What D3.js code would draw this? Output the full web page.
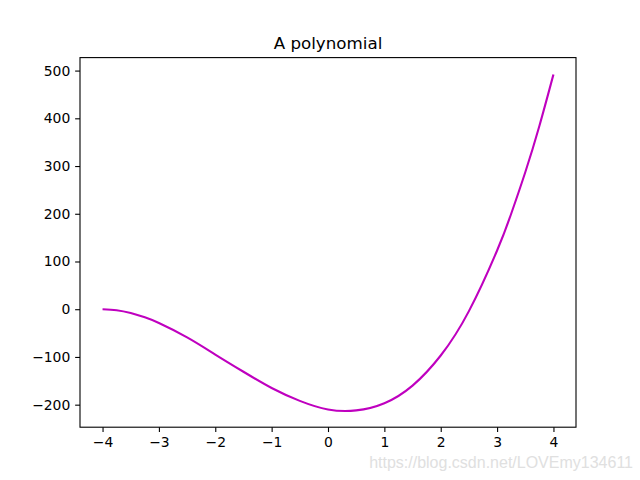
<!DOCTYPE html>
<html><head><meta charset="utf-8">
<script src="https://cdn.jsdelivr.net/npm/d3@7"></script>
<style>body{margin:0;background:#fff}svg{display:block}</style>
</head><body>
<script>
const xValues = [-4,-3.75,-3.5,-3.25,-3,-2.5,-2,-1.5,-1,-0.5,0,0.5,1,1.5,2,2.5,3,3.25,3.5,3.75,4];
const yValues = [0,-2,-8,-17,-29,-59,-95,-131,-165,-192,-210,-212,-197,-160,-97,-4,123,200,287,384,492];
const xTicks = [-4,-3,-2,-1,0,1,2,3,4];
const yTicks = [-200,-100,0,100,200,300,400,500];
const title = "A polynomial";
const watermark = "https://blog.csdn.net/LOVEmy134611";

const W=640,H=480;
const L=80,R=576,T=57.6,B=427.2;
const svg=d3.select("body").append("svg").attr("width",W).attr("height",H)
  .style("font-family","'DejaVu Sans', sans-serif");
svg.append("rect").attr("width",W).attr("height",H).attr("fill","#fff");

const xr=d3.extent(xValues), yr=d3.extent(yValues);
const xm=(xr[1]-xr[0])*0.05, ym=(yr[1]-yr[0])*0.05;
const x=d3.scaleLinear().domain([xr[0]-xm,xr[1]+xm]).range([L,R]);
const y=d3.scaleLinear().domain([yr[0]-ym,yr[1]+ym]).range([B,T]);
const fmt=d=>String(d).replace("-","\u2212");

const data=xValues.map((v,i)=>[v,yValues[i]]);
svg.append("path").datum(data)
  .attr("d",d3.line().x(d=>x(d[0])).y(d=>y(d[1])).curve(d3.curveNatural))
  .attr("fill","none").attr("stroke","#bf00bf").attr("stroke-width",2.08);

const xa=svg.append("g").attr("transform",`translate(0,${B})`)
  .call(d3.axisBottom(x).tickValues(xTicks).tickFormat(fmt).tickSize(4.86).tickPadding(4.86));
const ya=svg.append("g").attr("transform",`translate(${L},0)`)
  .call(d3.axisLeft(y).tickValues(yTicks).tickFormat(fmt).tickSize(4.86).tickPadding(4.86));
[xa,ya].forEach(a=>{
  a.select(".domain").remove();
  a.selectAll("line").attr("stroke","#000").attr("stroke-width",1.1);
  a.selectAll("text").attr("font-size","13.9px").attr("fill","#000").style("font-family","'DejaVu Sans', sans-serif");
});
svg.append("rect").attr("x",L).attr("y",T).attr("width",R-L).attr("height",B-T)
  .attr("fill","none").attr("stroke","#000").attr("stroke-width",1.1);

svg.append("text").attr("x",(L+R)/2).attr("y",T-8.3).attr("text-anchor","middle")
  .attr("font-size","16.7px").attr("fill","#000").text(title);

svg.append("text").attr("x",633).attr("y",468).attr("text-anchor","end")
  .attr("font-size","16px").attr("fill","#e0e0e0")
  .style("font-family","'Liberation Sans', Arial, sans-serif").text(watermark);
</script>
</body></html>
